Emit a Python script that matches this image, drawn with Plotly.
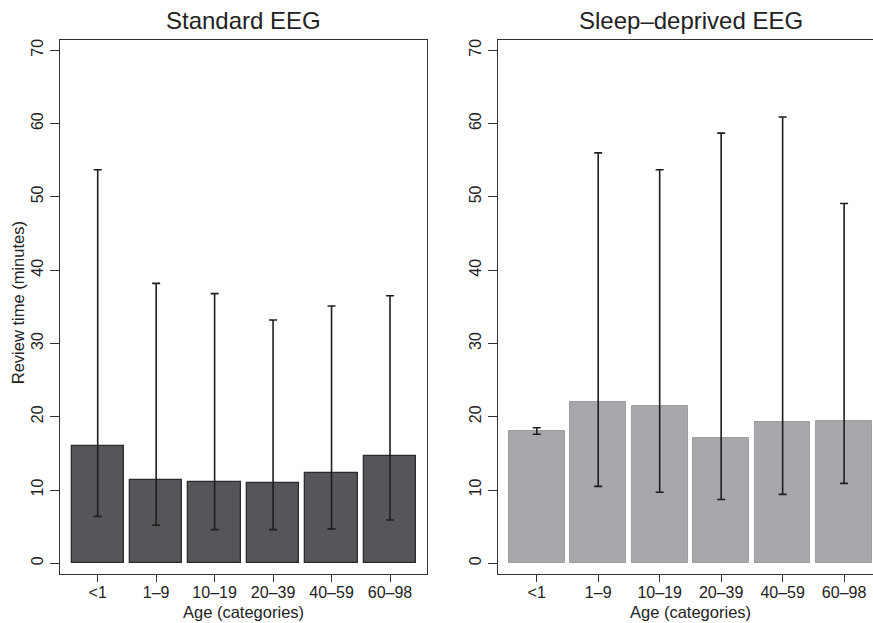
import plotly.graph_objects as go

categories = ["<1", "1–9", "10–19", "20–39", "40–59", "60–98"]

std_mean = [16.0, 11.4, 11.1, 10.9, 12.3, 14.7]
std_low = [6.4, 5.2, 4.6, 4.6, 4.7, 5.9]
std_high = [53.7, 38.2, 36.8, 33.2, 35.1, 36.5]

sd_mean = [18.0, 22.0, 21.4, 17.1, 19.3, 19.4]
sd_low = [17.6, 10.5, 9.7, 8.7, 9.4, 10.9]
sd_high = [18.5, 56.0, 53.7, 58.7, 60.9, 49.1]

y_ticks = [0, 10, 20, 30, 40, 50, 60, 70]

FONT = "Liberation Sans, Arial, Helvetica, sans-serif"
W, H = 873, 623
ML, MR, MT, MB = 60, 0, 39.5, 623 - 574
PW = W - ML - MR
PH = H - MT - MB

x_idx = list(range(len(categories)))

def errs(mean, low, high):
    return dict(
        type="data", symmetric=False,
        array=[h - m for m, h in zip(mean, high)],
        arrayminus=[m - l for m, l in zip(mean, low)],
        color="#1e1e1e", thickness=1.6, width=4,
    )

fig = go.Figure()
fig.add_trace(go.Bar(
    x=x_idx, y=std_mean, width=0.895,
    marker=dict(color="#555659", line=dict(color="#2b2b2d", width=1.3)),
    error_y=errs(std_mean, std_low, std_high),
    xaxis="x", yaxis="y", showlegend=False,
))
fig.add_trace(go.Bar(
    x=x_idx, y=sd_mean, width=0.905,
    marker=dict(color="#a7a8ab", line=dict(color="#9c9da0", width=1)),
    error_y=errs(sd_mean, sd_low, sd_high),
    xaxis="x2", yaxis="y2", showlegend=False,
))

axis_common = dict(
    showgrid=False, zeroline=False, showline=True, linecolor="#333333",
    linewidth=1.3, ticks="outside", tickcolor="#333333", tickwidth=1.2,
    tickfont=dict(family=FONT, size=16, color="#222222"),
)

def px_x(p):
    return (p - ML) / PW

def px_y(p):
    return 1 - (p - MT) / PH

left_dom = [0, px_x(427)]
right_dom = [px_x(498), 1.0]

fig.update_layout(
    width=W, height=H,
    margin=dict(l=ML, r=MR, t=MT, b=MB),
    paper_bgcolor="white", plot_bgcolor="white",
    bargap=0,
    xaxis=dict(domain=left_dom, range=[-0.645, 5.633], tickvals=x_idx,
               ticktext=categories, mirror=True, ticklen=7, anchor="y",
               ticklabelstandoff=-3, **axis_common),
    yaxis=dict(domain=[0, 1], range=[-1.46, 71.4], tickvals=y_ticks,
               tickangle=-90, mirror=True, ticklen=9, ticklabelstandoff=0,
               anchor="x", **axis_common),
    xaxis2=dict(domain=right_dom, range=[-0.63, 5.47], tickvals=x_idx,
                ticktext=categories, mirror=True, ticklen=7, anchor="y2",
                ticklabelstandoff=-3, **axis_common),
    yaxis2=dict(domain=[0, 1], range=[-1.46, 71.4], tickvals=y_ticks,
                tickangle=-90, mirror=False, ticklen=9, ticklabelstandoff=0,
                anchor="x2", **axis_common),
)

annots = [
    dict(text="Standard EEG", x=243.5, y=20, size=24),
    dict(text="Sleep–deprived EEG", x=690.5, y=20, size=24),
    dict(text="Age (categories)", x=243.5, y=612, size=16.5),
    dict(text="Age (categories)", x=690.5, y=612, size=16.5),
]
for a in annots:
    fig.add_annotation(
        text=a["text"], xref="paper", yref="paper",
        x=px_x(a["x"]), y=px_y(a["y"]),
        xanchor="center", yanchor="middle", showarrow=False,
        font=dict(family=FONT, size=a["size"], color="#222222"),
    )
fig.add_annotation(
    text="Review time (minutes)", xref="paper", yref="paper",
    x=px_x(18), y=px_y(303),
    xanchor="center", yanchor="middle", showarrow=False, textangle=-90,
    font=dict(family=FONT, size=16.5, color="#222222"),
)

fig.write_html(
    "out.html",
    config={"displayModeBar": False},
    post_script="document.body.style.margin='0';document.body.style.overflow='hidden';",
)
